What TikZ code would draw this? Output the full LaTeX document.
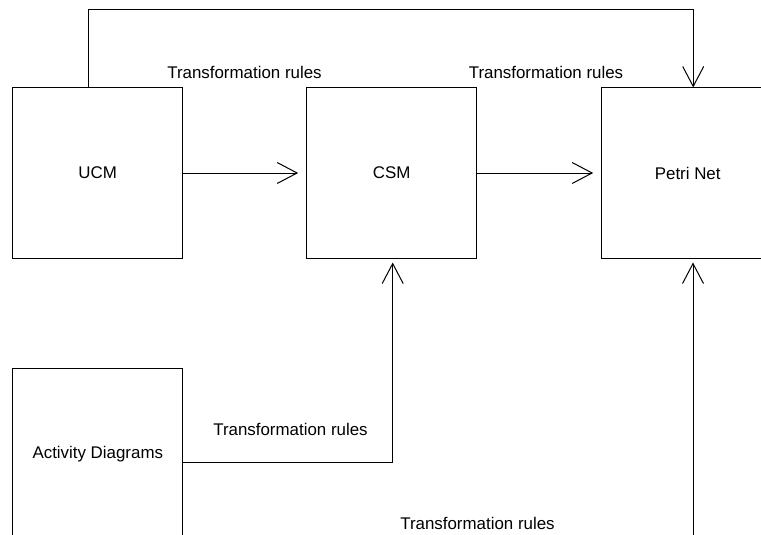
\documentclass[tikz,border=0pt]{standalone}
\usepackage{fontspec}
\setmainfont{Liberation Sans}
\usetikzlibrary{arrows.meta, positioning}

\tikzset{
    model/.style={draw, line width=1pt, minimum width=170pt, minimum height=170pt,
        inner sep=0pt, font=\fontsize{16.9}{19}\selectfont},
    rule/.style={font=\fontsize{16.9}{19}\selectfont, inner sep=0pt},
    link/.style={line width=1pt, -{Straight Barb[length=20pt, width=21pt, line width=1pt]}}
}

\begin{document}
\begin{tikzpicture}[x=1pt, y=-1pt]

\clip (0,0) rectangle (761,535);

% Draw the models
\node[model] (ucm) at (97.7,173) {UCM};
\node[model, right=123pt of ucm] (csm) {CSM};
\node[model, minimum width=172pt, right=124pt of csm] (petri) {Petri Net};
\node[model, minimum height=172pt] (act) at (97.8,454) {Activity Diagrams};

% Draw the transformations
\draw[link, shorten >=8pt] (ucm.east) -- (csm.west);
\draw[link, shorten >=8pt] (csm.east) -- (petri.west);
\draw[link] ([xshift=76pt]ucm.north west) |- ([xshift=92pt, yshift=78pt]petri.north west)
    -- ([xshift=92pt]petri.north west);
\draw[link, shorten >=4pt] ([yshift=-8pt]act.east) -| ([xshift=1pt]csm.south);
\coordinate (pn-in) at (693,540);
\draw[link, shorten >=4pt] (pn-in) -- (pn-in |- petri.south);

% Draw the labels
\foreach \i/\x/\y in {1/244.5/72.5, 2/546/72.5, 3/290.5/429.5, 4/477.5/523} {
    \node[rule] (rule\i) at (\x,\y) {Transformation rules};
}

\end{tikzpicture}
\end{document}
